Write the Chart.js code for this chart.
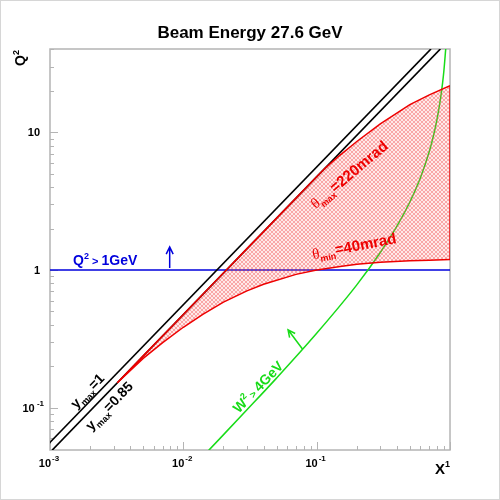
<!DOCTYPE html>
<html>
<head>
<meta charset="utf-8">
<script src="https://cdn.jsdelivr.net/npm/chart.js@4"></script>
<style>
  html, body { margin: 0; padding: 0; background: #fff; }
  #wrap { width: 500px; height: 500px; }
</style>
</head>
<body>
<div id="wrap"><canvas id="kinChart" width="500" height="500"></canvas></div>
<script>
// kinematic plane
const thetaX      = [0.0032, 0.005, 0.007, 0.01, 0.014, 0.02, 0.03, 0.04, 0.07, 0.1, 0.116, 0.15, 0.2, 0.3, 0.5, 0.7, 1];
const thetaMaxQ2  = [0.152, 0.238, 0.333, 0.476, 0.666, 0.952, 1.43, 1.90, 3.33, 4.76, 5.5, 6.84, 8.58, 11.5, 15.9, 18.7, 21.8];
const thetaMinQ2  = [0.152, 0.228, 0.297, 0.384, 0.477, 0.584, 0.706, 0.789, 0.93, 1.0, 1.02, 1.06, 1.10, 1.14, 1.17, 1.18, 1.19];

const wX  = [0.0155, 0.03, 0.05, 0.1, 0.2, 0.3, 0.4, 0.5, 0.6, 0.7, 0.75, 0.8, 0.85, 0.88, 0.9, 0.93];
const wQ2 = [0.049, 0.0965, 0.164, 0.347, 0.78, 1.34, 2.08, 3.12, 4.68, 7.28, 9.36, 12.5, 17.7, 22.9, 28, 41];

const yMax1X    = [0.00088, 0.72];
const yMax1Q2   = [0.0493, 40.3];
const yMax085X  = [0.00104, 0.847];
const yMax085Q2 = [0.0493, 40.3];

const q2CutX  = [0.001, 1];
const q2CutQ2 = [1, 1];

const edgeX  = [1, 1];
const edgeQ2 = [1.19, 21.8];

const xRange = [0.001, 1];
const yRange = [0.0493, 40.3];
const xTickValues = [0.001, 0.01, 0.1];
const xTickLabels = [['10', '-3'], ['10', '-2'], ['10', '-1']];
const yTickValues = [0.1, 1, 10];
const yTickLabels = [['10', '-1'], ['1', ''], ['10', '']];

const toPts = (xs, ys) => xs.map((x, i) => ({ x: x, y: ys[i] }));

const RED = '#ee0000';
const GREEN = '#18dc18';
const BLUE = '#0000dd';

function hatch() {
  const c = document.createElement('canvas');
  c.width = 4; c.height = 4;
  const g = c.getContext('2d');
  g.fillStyle = 'rgba(255,120,120,0.16)';
  g.fillRect(0, 0, 4, 4);
  g.fillStyle = 'rgba(240,60,60,0.38)';
  for (let i = 0; i < 4; i++) {
    g.fillRect(i, i, 1, 1);
    g.fillRect(3 - i, i, 1, 1);
  }
  return g.createPattern(c, 'repeat');
}

const B = s => 'bold ' + s + 'px "Liberation Sans", Arial, sans-serif';
const SERIF = s => s + 'px "Liberation Serif", "DejaVu Serif", serif';

// draw a string made of parts (sub/superscripts) with rotation
function rich(ctx, parts, x, y, angle, color, align, base) {
  ctx.save();
  ctx.translate(x, y);
  ctx.rotate(angle * Math.PI / 180);
  ctx.fillStyle = color;
  ctx.textBaseline = 'alphabetic';
  ctx.textAlign = 'left';
  let w = 0;
  parts.forEach(p => { ctx.font = p.font; p.w = ctx.measureText(p.t).width; w += p.w; });
  let cx = align === 'left' ? 0 : (align === 'right' ? -w : -w / 2);
  parts.forEach(p => {
    ctx.font = p.font;
    ctx.fillText(p.t, cx, (base || 0) + (p.dy || 0));
    cx += p.w;
  });
  ctx.restore();
}

function arrow(ctx, x0, y0, x1, y1, color) {
  const a = Math.atan2(y1 - y0, x1 - x0);
  const h = 8;
  ctx.save();
  ctx.strokeStyle = color;
  ctx.lineWidth = 1.5;
  ctx.beginPath();
  ctx.moveTo(x0, y0);
  ctx.lineTo(x1, y1);
  ctx.moveTo(x1 - h * Math.cos(a - 0.45), y1 - h * Math.sin(a - 0.45));
  ctx.lineTo(x1, y1);
  ctx.lineTo(x1 - h * Math.cos(a + 0.45), y1 - h * Math.sin(a + 0.45));
  ctx.stroke();
  ctx.restore();
}

const decor = {
  id: 'decor',
  beforeDraw(chart) {
    const ctx = chart.ctx;
    ctx.save();
    ctx.fillStyle = '#fff';
    ctx.fillRect(0, 0, chart.width, chart.height);
    ctx.strokeStyle = '#d6d6d6';
    ctx.lineWidth = 1;
    ctx.strokeRect(0.5, 0.5, chart.width - 1, chart.height - 1);
    ctx.restore();
  },
  beforeDatasetsDraw(chart) {
    const ctx = chart.ctx, a = chart.chartArea;
    const xs = chart.scales.x, ys = chart.scales.y;
    ctx.save();
    ctx.strokeStyle = '#b4b4b4';
    ctx.lineWidth = 1.5;
    ctx.strokeRect(a.left, a.top, a.right - a.left, a.bottom - a.top);
    // inward ticks, major at decades, minor at 2..9
    ctx.lineWidth = 1;
    ctx.beginPath();
    for (let d = 0.001; d < 1.5; d *= 10) {
      for (let k = 1; k <= 9; k++) {
        const v = k * d;
        if (v < xRange[0] * 0.999 || v > xRange[1] * 1.001) continue;
        const px = Math.round(xs.getPixelForValue(v)) + 0.5;
        ctx.moveTo(px, a.bottom);
        ctx.lineTo(px, a.bottom - (k === 1 ? 8 : 4));
      }
    }
    for (let d = 0.01; d < 100; d *= 10) {
      for (let k = 1; k <= 9; k++) {
        const v = k * d;
        if (v < yRange[0] || v > yRange[1]) continue;
        const py = Math.round(ys.getPixelForValue(v)) + 0.5;
        ctx.moveTo(a.left, py);
        ctx.lineTo(a.left + (k === 1 ? 8 : 4), py);
      }
    }
    ctx.stroke();
    ctx.restore();
  },
  afterDraw(chart) {
    const ctx = chart.ctx, a = chart.chartArea;
    const xs = chart.scales.x, ys = chart.scales.y;
    const P = (x, y) => [xs.getPixelForValue(x), ys.getPixelForValue(y)];

    // title and axis titles
    rich(ctx, [{ t: 'Beam Energy 27.6 GeV', font: B(17) }], 250, 38, 0, '#000', 'center');
    rich(ctx, [{ t: 'Q', font: B(14) }, { t: '2', font: B(9), dy: -6 }], 25, 58, -90, '#000', 'center');
    rich(ctx, [{ t: 'X', font: B(15) }, { t: '1', font: B(9), dy: -7 }], a.right, 474, 0, '#000', 'right');

    // tick labels
    xTickValues.forEach((v, i) => {
      const px = xs.getPixelForValue(v);
      rich(ctx, [{ t: xTickLabels[i][0], font: B(11) }], px + 1, 467, 0, '#000', 'right');
      rich(ctx, [{ t: xTickLabels[i][1], font: B(8) }], px + 2, 461, 0, '#000', 'left');
    });
    yTickValues.forEach((v, i) => {
      const py = ys.getPixelForValue(v);
      rich(ctx, [{ t: yTickLabels[i][0], font: B(11) }, { t: yTickLabels[i][1] ? ' ' + yTickLabels[i][1] : '', font: B(8), dy: -6 }],
        yTickLabels[i][1] ? 44 : 40, py + 4, 0, '#000', 'right');
    });

    // curve labels
    let p = P(0.0019, 0.133);
    rich(ctx, [{ t: 'y', font: B(14) }, { t: 'max', font: B(9), dy: 4 }, { t: '=1', font: B(14) }], p[0], p[1], -46, '#000', 'center', 5);
    p = P(0.00277, 0.1034);
    rich(ctx, [{ t: 'y', font: B(14) }, { t: 'max', font: B(9), dy: 4 }, { t: '=0.85', font: B(14) }], p[0], p[1], -46, '#000', 'center', 5);
    p = P(0.175, 4.93);
    rich(ctx, [{ t: 'θ', font: SERIF(15) }, { t: 'max', font: B(9), dy: 4 }, { t: '=220mrad', font: B(15) }], p[0], p[1], -40, RED, 'center', 5);
    p = P(0.191, 1.49);
    rich(ctx, [{ t: 'θ', font: SERIF(15) }, { t: 'min', font: B(9), dy: 4 }, { t: '=40mrad', font: B(15) }], p[0], p[1], -11, RED, 'center', 5);
    p = P(0.0363, 0.142);
    rich(ctx, [{ t: 'W', font: B(14) }, { t: '2', font: B(9), dy: -6 }, { t: ' > ', font: B(10) }, { t: '4GeV', font: B(14) }], p[0], p[1], -46, GREEN, 'center', 5);
    p = P(0.00149, 1.087);
    rich(ctx, [{ t: 'Q', font: B(14) }, { t: '2', font: B(9), dy: -6 }, { t: ' > ', font: B(11) }, { t: '1GeV', font: B(14) }], p[0], p[1], 0, BLUE, 'left');

    // arrows
    let s = P(0.0079, 1), e = P(0.0079, 1.47);
    arrow(ctx, s[0], s[1] - 2, e[0], e[1], BLUE);
    s = P(0.0785, 0.266); e = P(0.061, 0.368);
    arrow(ctx, s[0], s[1], e[0], e[1], GREEN);
  }
};

const line = (xs, ys, color, extra) => Object.assign({
  data: toPts(xs, ys),
  borderColor: color,
  borderWidth: 1.5,
  pointRadius: 0,
  fill: false,
  tension: 0
}, extra || {});

new Chart(document.getElementById('kinChart'), {
  type: 'line',
  data: {
    datasets: [
      line(thetaX, thetaMaxQ2, RED, { label: 'theta max' }),
      line(thetaX, thetaMinQ2, RED, { label: 'theta min', fill: 0, backgroundColor: hatch() }),
      line(edgeX, edgeQ2, RED, { label: 'edge' }),
      line(yMax1X, yMax1Q2, '#000', { label: 'y=1', borderWidth: 1.7 }),
      line(yMax085X, yMax085Q2, '#000', { label: 'y=0.85', borderWidth: 1.7 }),
      line(wX, wQ2, GREEN, { label: 'W2', cubicInterpolationMode: 'monotone' }),
      line(q2CutX, q2CutQ2, BLUE, { label: 'Q2' })
    ]
  },
  options: {
    responsive: false,
    animation: false,
    events: [],
    layout: { padding: { left: 50, right: 50, top: 49, bottom: 50 } },
    plugins: { legend: { display: false }, tooltip: { enabled: false }, title: { display: false } },
    scales: {
      x: { type: 'logarithmic', min: xRange[0], max: xRange[1], display: false },
      y: { type: 'logarithmic', min: yRange[0], max: yRange[1], display: false }
    }
  },
  plugins: [decor]
});
</script>
</body>
</html>
